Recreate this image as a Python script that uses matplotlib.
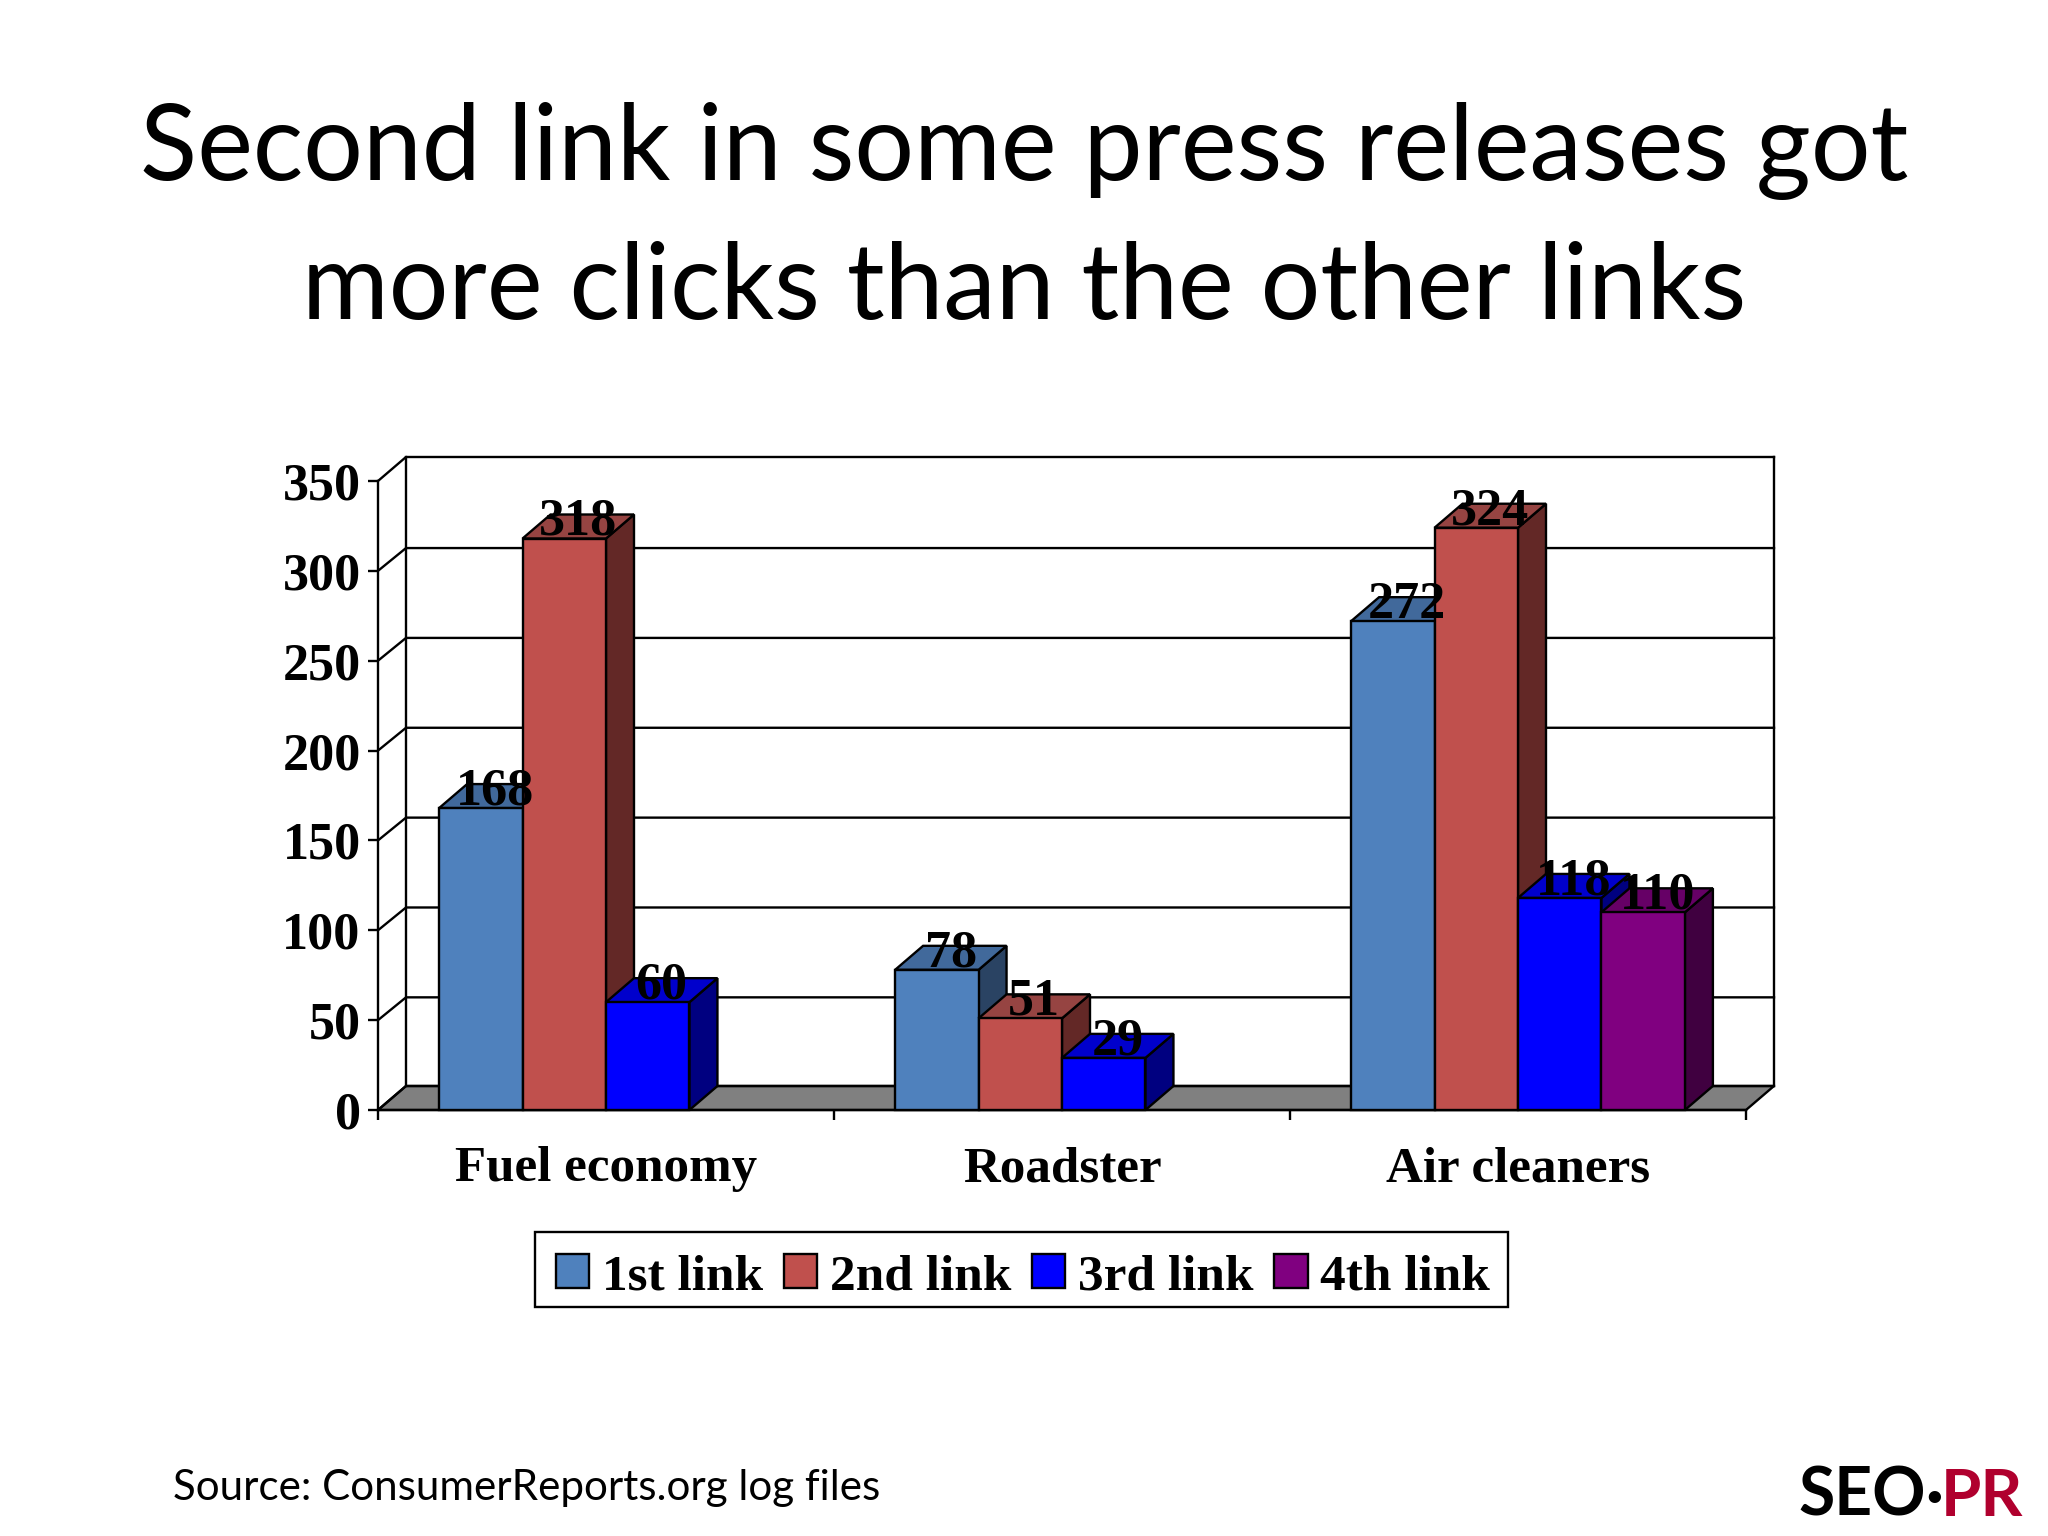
import matplotlib
matplotlib.use('Agg')
import matplotlib.pyplot as plt
from matplotlib.patches import Polygon, Patch, Rectangle

# data
categories = ['Fuel economy', 'Roadster', 'Air cleaners']
series_names = ['1st link', '2nd link', '3rd link', '4th link']
link1 = [168, 78, 272]
link2 = [318, 51, 324]
link3 = [60, 29, 118]
link4 = [None, None, 110]
y_ticks = [0, 50, 100, 150, 200, 250, 300, 350]

# front, top and side colour of each series
front_colors = ['#4F81BD', '#C0504D', '#0000FF', '#800080']
top_colors = ['#41699B', '#964442', '#0000CC', '#660066']
side_colors = ['#2A4363', '#632826', '#000080', '#400040']

W, H = 2048, 1536
BAR_W = 0.183
# 3d depth in data units
DX = 28 / 456
DY = 24 / 1.797
GRID_DY = 22.8 / 1.797

SERIF = 'Liberation Serif'
FS = 37.5

fig = plt.figure(figsize=(W / 100, H / 100), dpi=100, facecolor='white')
ax = fig.add_axes([378 / W, 1 - 1110 / H, 1368 / W, 629 / H])
ax.set_xlim(0, 3)
ax.set_ylim(0, 350)
ax.patch.set_visible(False)

LW = 1.7
# walls and floor
ax.add_patch(Polygon([(0, 0), (3, 0), (3 + DX, DY), (DX, DY)], closed=True, fc='#808080',
                     ec='black', lw=LW, zorder=1, clip_on=False))
for v in y_ticks:
    d = DY if v in (0, 350) else GRID_DY
    ax.plot([0, DX, 3 + DX], [v, v + d, v + d], color='black', lw=LW, zorder=1, clip_on=False)
ax.plot([DX, DX], [DY, 350 + DY], color='black', lw=LW, zorder=1, clip_on=False)
ax.plot([3 + DX, 3 + DX], [DY, 350 + DY], color='black', lw=LW, zorder=1, clip_on=False)

# bars, front face from ax.bar, top and side as polygons
all_series = [link1, link2, link3, link4]
labels = []
for c in range(len(categories)):
    for s, vals in enumerate(all_series):
        v = vals[c]
        if v is None:
            continue
        x0 = c + 0.5 + (s - 2) * BAR_W
        x1 = x0 + BAR_W
        z = 2 + c + s * 0.1
        ax.add_patch(Polygon([(x1, 0), (x1 + DX, DY), (x1 + DX, v + DY), (x1, v)], closed=True,
                             fc=side_colors[s], ec='black', lw=LW, zorder=z, clip_on=False))
        ax.add_patch(Polygon([(x0, v), (x1, v), (x1 + DX, v + DY), (x0 + DX, v + DY)], closed=True,
                             fc=top_colors[s], ec='black', lw=LW, zorder=z, clip_on=False))
        ax.bar(x0, v, width=BAR_W, align='edge', color=front_colors[s], edgecolor='black',
               linewidth=LW, zorder=z + 0.01, clip_on=False)
        labels.append((x0 + BAR_W / 2 + DX / 2, v, v))

for x, y, v in labels:
    ax.text(x, y + 2, str(v), ha='center', va='baseline', fontsize=FS, fontweight='bold',
            family=SERIF, color='black', zorder=20, clip_on=False)

# axes
for side in ['top', 'right']:
    ax.spines[side].set_visible(False)
for side in ['left', 'bottom']:
    ax.spines[side].set_linewidth(LW)
    ax.spines[side].set_zorder(1.5)
ax.set_yticks(y_ticks)
ax.set_yticklabels([str(v) for v in y_ticks], fontsize=FS, fontweight='bold', family=SERIF)
ax.set_xticks([0, 1, 2, 3])
ax.set_xticklabels([])
ax.set_xticks([0.5, 1.5, 2.5], categories, minor=True, fontsize=36.7, fontweight='bold', family=SERIF)
ax.tick_params(axis='y', length=7.5, width=LW, pad=5)
ax.tick_params(axis='x', which='major', length=7.5, width=LW)
ax.tick_params(axis='x', which='minor', length=0, pad=26)

# legend, the frame is drawn apart since the entries sit low inside it
fig.add_artist(Rectangle((535 / W, 1 - 1307 / H), 973 / W, 75 / H, transform=fig.transFigure,
                         fc='white', ec='black', lw=LW))
handles = [Patch(fc=front_colors[i], ec='black', lw=LW) for i in range(4)]
leg = fig.legend(handles, series_names, ncol=4, loc='center', bbox_to_anchor=(1023 / W, 1 - 1277 / H),
                 frameon=False, prop={'family': SERIF, 'weight': 'bold', 'size': 37}, handlelength=0.65,
                 handleheight=0.65, handletextpad=0.25, columnspacing=0.4, borderpad=0.28, borderaxespad=0)

# title and notes
fig.text(1024 / W, 1 - 180 / H, 'Second link in some press releases got', ha='center', va='baseline',
         fontsize=76, family='Lato', color='black')
fig.text(1024 / W, 1 - 319 / H, 'more clicks than the other links', ha='center', va='baseline',
         fontsize=76, family='Lato', color='black')
fig.text(173 / W, 1 - 1500 / H, 'Source: ConsumerReports.org log files', ha='left', va='baseline',
         fontsize=30.3, family='Lato', color='black')

# logo
fig.text(1798 / W, 1 - 1516 / H, 'SEO', ha='left', va='baseline', fontsize=47.5, fontweight='bold',
         family='Lato', color='black')
fig.text(1934 / W, 1 - 1516 / H, '·', ha='center', va='baseline', fontsize=47, fontweight='bold',
         family='Lato', color='black')
fig.text(2023 / W, 1 - 1516 / H, 'PR', ha='right', va='baseline', fontsize=47, fontweight='bold',
         family='Lato', color='#B0002E')

fig.savefig('out.png', dpi=100, facecolor='white')
